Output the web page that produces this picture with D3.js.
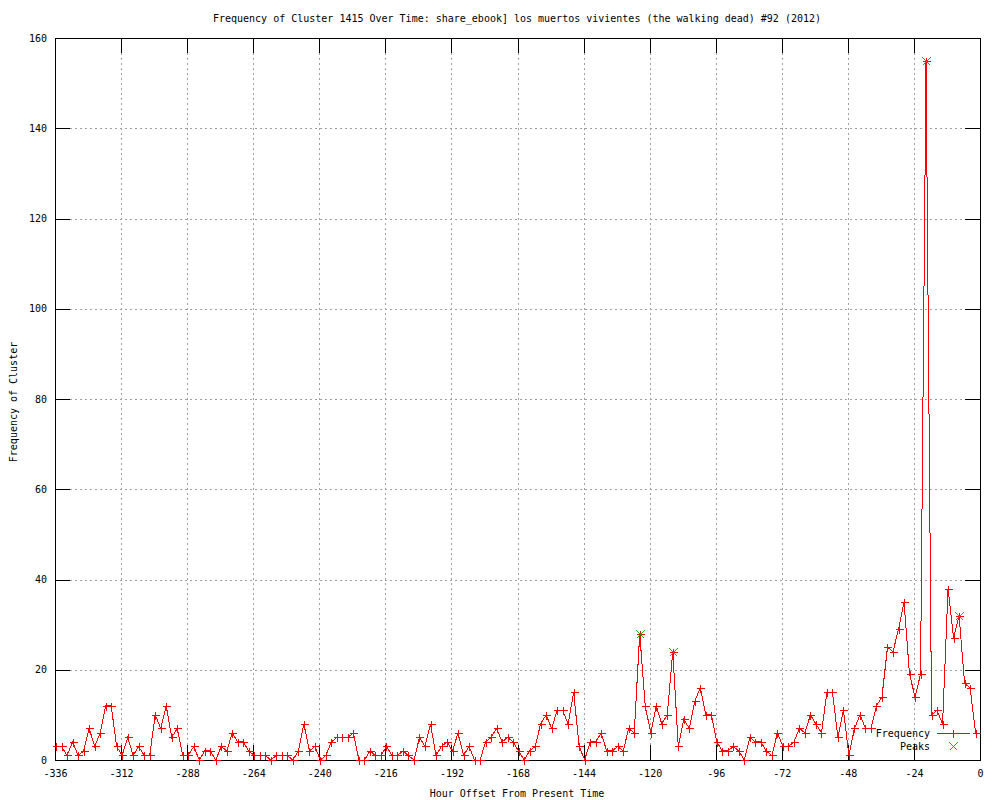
<!DOCTYPE html>
<html>
<head>
<meta charset="utf-8">
<script src="https://cdn.jsdelivr.net/npm/d3@7"></script>
<style>
  body { margin: 0; background: #fff; }
  text { font-family: "DejaVu Sans Mono", monospace; font-size: 10px; fill: #000; }
  line, path, rect { shape-rendering: crispEdges; }
</style>
</head>
<body>
<script>
// counts per 2-hour bin, oldest first
var values = [
  3,3,1,4,1,2,7,3,6,12,12,3,1,5,1,3,1,1,10,7,12,5,7,1,1,3,0,2,2,
  0,3,2,6,4,4,2,1,1,1,0,1,1,1,0,2,8,2,3,0,1,4,5,5,5,6,0,
  0,2,1,1,3,1,1,2,1,0,5,3,8,1,3,4,2,6,1,3,0,0,4,5,7,4,5,
  4,2,0,2,3,8,10,7,11,11,8,15,3,0,4,4,6,2,2,3,2,7,6,28,12,
  6,12,8,10,24,3,9,7,13,16,10,10,4,2,2,3,2,0,5,4,4,2,1,6,3,3,4,7,
  6,10,8,6,15,15,5,11,1,7,10,7,7,12,14,25,24,29,35,19,14,19,155,10,11,8,38,27,32,17,16,6
];
var firstHour = -335.6;
var stepHours = 2;
var peakIndex = [106, 112, 158, 164];

var xTicks = [-336, -312, -288, -264, -240, -216, -192, -168, -144, -120, -96, -72, -48, -24, 0];
var yTicks = [0, 20, 40, 60, 80, 100, 120, 140, 160];

var title = 'Frequency of Cluster 1415 Over Time: share_ebook] los muertos vivientes (the walking dead) #92 (2012)';

var RED = '#ff0000', GREEN = '#00c000';

var W = 1000, H = 800;
var L = 55, R = 980, T = 38, B = 760;

var svg = d3.select('body').append('svg')
    .attr('width', W)
    .attr('height', H);

var x = d3.scaleLinear().domain([-336, 0]).range([L, R]);
var y = d3.scaleLinear().domain([0, 160]).range([B, T]);

var pts = values.map(function(v, i) {
  return { hour: firstHour + i * stepHours, value: v };
});

// grid
var gx = svg.append('g').attr('transform', 'translate(0,' + B + ')')
    .call(d3.axisBottom(x).tickValues(xTicks.slice(1, -1)).tickSize(-(B - T)).tickFormat(''));
var gy = svg.append('g').attr('transform', 'translate(' + L + ',0)')
    .call(d3.axisLeft(y).tickValues(yTicks.slice(1, -1)).tickSize(-(R - L)).tickFormat(''));
[gx, gy].forEach(function(g) {
  g.select('.domain').remove();
  g.selectAll('line')
      .attr('stroke', '#a0a0a0')
      .attr('stroke-dasharray', '2,3');
});

// border
svg.append('rect')
    .attr('x', L + 0.5).attr('y', T + 0.5)
    .attr('width', R - L).attr('height', B - T)
    .attr('fill', 'none')
    .attr('stroke', '#000');

// ticks on all four sides, pointing inward
var tick = 15;
var axes = [
  svg.append('g').attr('transform', 'translate(0,' + B + ')')
     .call(d3.axisBottom(x).tickValues(xTicks).tickSizeInner(-tick).tickSizeOuter(0)
       .tickPadding(10).tickFormat(function(d) { return String(d); })),
  svg.append('g').attr('transform', 'translate(' + L + ',0)')
     .call(d3.axisLeft(y).tickValues(yTicks).tickSizeInner(-tick).tickSizeOuter(0)
       .tickPadding(8).tickFormat(function(d) { return String(d); })),
  svg.append('g').attr('transform', 'translate(0,' + T + ')')
     .call(d3.axisTop(x).tickValues(xTicks).tickSizeInner(-tick).tickSizeOuter(0).tickFormat('')),
  svg.append('g').attr('transform', 'translate(' + R + ',0)')
     .call(d3.axisRight(y).tickValues(yTicks).tickSizeInner(-tick).tickSizeOuter(0).tickFormat(''))
];
axes.forEach(function(g) {
  g.attr('font-family', null).attr('font-size', null);
  g.select('.domain').remove();
  g.selectAll('line').attr('stroke', '#000');
});

// data line
var line = d3.line()
    .x(function(d) { return x(d.hour); })
    .y(function(d) { return y(d.value); });

svg.append('path')
    .datum(pts)
    .attr('d', line)
    .style('fill', 'none')
    .style('stroke', RED)
    .style('stroke-width', 1);

function plusPath(cx, cy, s) {
  return 'M' + (cx - s) + ',' + cy + 'H' + (cx + s) + 'M' + cx + ',' + (cy - s) + 'V' + (cy + s);
}
function crossPath(cx, cy, s) {
  return 'M' + (cx - s) + ',' + (cy - s) + 'L' + (cx + s) + ',' + (cy + s) +
         'M' + (cx - s) + ',' + (cy + s) + 'L' + (cx + s) + ',' + (cy - s);
}

svg.append('g').attr('class', 'marks').selectAll('path')
    .data(pts)
    .enter().append('path')
    .attr('d', function(d) { return plusPath(Math.round(x(d.hour)) + 0.5, Math.round(y(d.value)) + 0.5, 4); })
    .style('stroke', RED)
    .style('fill', 'none');

svg.append('g').attr('class', 'peaks').selectAll('path')
    .data(peakIndex.map(function(i) { return pts[i]; }))
    .enter().append('path')
    .attr('d', function(d) { return crossPath(Math.round(x(d.hour)) + 0.5, Math.round(y(d.value)) + 0.5, 4); })
    .style('stroke', GREEN)
    .style('fill', 'none');

// legend
var lg = svg.append('g').attr('class', 'legend');
lg.append('text').attr('x', 930).attr('y', 737).attr('text-anchor', 'end').text('Frequency');
lg.append('path')
    .attr('d', 'M937,733.5H970')
    .style('stroke', RED).style('fill', 'none');
lg.append('path').attr('d', plusPath(953.5, 733.5, 4))
    .style('stroke', RED).style('fill', 'none');
lg.append('text').attr('x', 930).attr('y', 750).attr('text-anchor', 'end').text('Peaks');
lg.append('path').attr('d', crossPath(953.5, 746.5, 4))
    .style('stroke', GREEN).style('fill', 'none');

// titles
svg.append('text').attr('x', 517).attr('y', 22).attr('text-anchor', 'middle').text(title);
svg.append('text').attr('x', 517).attr('y', 797).attr('text-anchor', 'middle').text('Hour Offset From Present Time');
svg.append('text')
    .attr('transform', 'translate(17,402) rotate(-90)')
    .attr('text-anchor', 'middle')
    .text('Frequency of Cluster');
</script>
</body>
</html>
